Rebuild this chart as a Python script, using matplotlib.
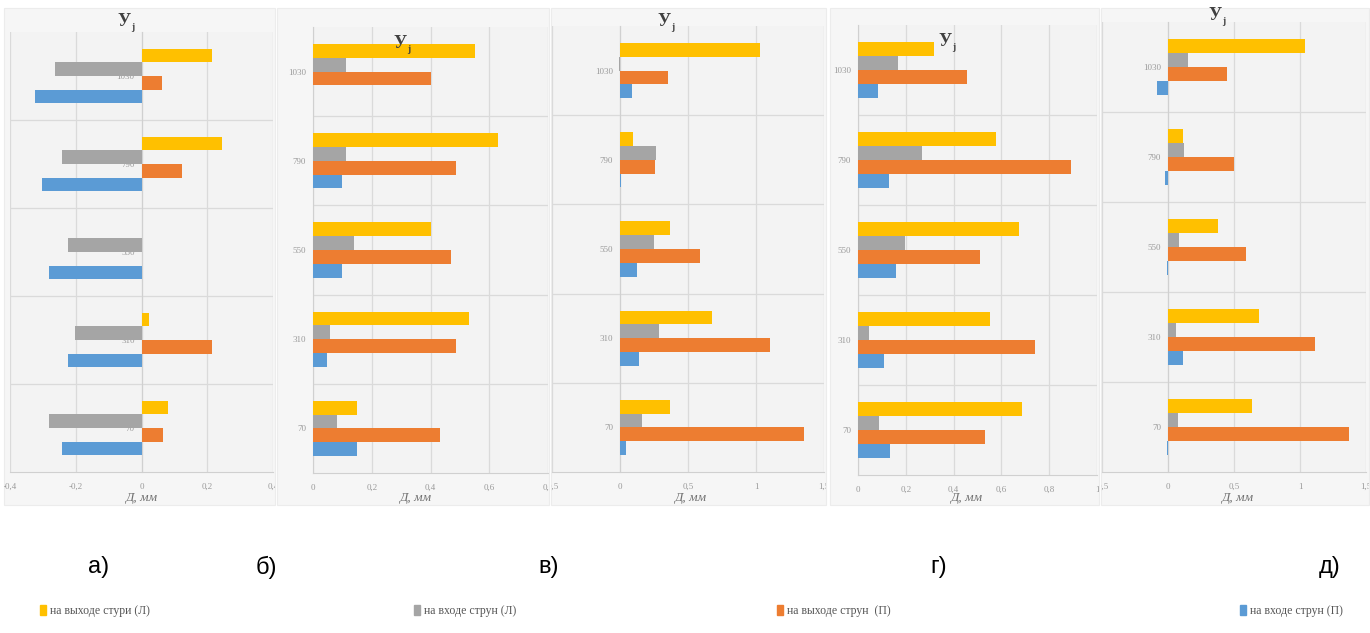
import matplotlib
matplotlib.use('Agg')
import matplotlib.pyplot as plt
from matplotlib.patches import Rectangle, Patch
from matplotlib.ticker import FuncFormatter
from matplotlib.transforms import Bbox, TransformedBbox

plt.rcParams['font.family'] = ['Liberation Serif', 'DejaVu Serif']

# категории (снизу вверх)
cats = ['70', '310', '550', '790', '1030']

# данные по панелям: выход (Л), вход (Л), выход (П), вход (П)
a_out_l = [0.082, 0.024, 0.0, 0.246, 0.213]
a_in_l = [-0.282, -0.202, -0.223, -0.241, -0.262]
a_out_r = [0.064, 0.213, 0.0, 0.123, 0.062]
a_in_r = [-0.243, -0.223, -0.282, -0.303, -0.323]

b_out_l = [0.149, 0.531, 0.40, 0.629, 0.551]
b_in_l = [0.08, 0.059, 0.139, 0.113, 0.113]
b_out_r = [0.431, 0.488, 0.469, 0.488, 0.40]
b_in_r = [0.149, 0.048, 0.099, 0.099, 0.0]

v_out_l = [0.368, 0.678, 0.368, 0.098, 1.03]
v_in_l = [0.159, 0.288, 0.251, 0.268, -0.008]
v_out_r = [1.356, 1.105, 0.588, 0.259, 0.35]
v_in_r = [0.044, 0.141, 0.122, 0.006, 0.088]

g_out_l = [0.686, 0.553, 0.672, 0.578, 0.316]
g_in_l = [0.086, 0.047, 0.198, 0.268, 0.167]
g_out_r = [0.532, 0.741, 0.509, 0.892, 0.456]
g_in_r = [0.135, 0.107, 0.159, 0.128, 0.084]

d_out_l = [0.637, 0.69, 0.38, 0.112, 1.039]
d_in_l = [0.073, 0.063, 0.08, 0.122, 0.149]
d_out_r = [1.373, 1.117, 0.593, 0.502, 0.446]
d_in_r = [-0.006, 0.112, -0.01, -0.024, -0.083]

series_names = ['на выходе стури (Л)', 'на входе струн (Л)',
                'на выходе струн  (П)', 'на входе струн (П)']
colors = ['#ffc000', '#a5a5a5', '#ed7d31', '#5b9bd5']

panels = [
    ('а)', [a_out_l, a_in_l, a_out_r, a_in_r], (-0.4, 0.4), [-0.4, -0.2, 0, 0.2, 0.4]),
    ('б)', [b_out_l, b_in_l, b_out_r, b_in_r], (0, 0.8), [0, 0.2, 0.4, 0.6, 0.8]),
    ('в)', [v_out_l, v_in_l, v_out_r, v_in_r], (-0.5, 1.5), [-0.5, 0, 0.5, 1, 1.5]),
    ('г)', [g_out_l, g_in_l, g_out_r, g_in_r], (0, 1.0), [0, 0.2, 0.4, 0.6, 0.8, 1.0]),
    ('д)', [d_out_l, d_in_l, d_out_r, d_in_r], (-0.5, 1.5), [-0.5, 0, 0.5, 1, 1.5]),
]

W, H = 1370, 633
# пиксельная геометрия: область построения (x0, x1, y0, y1), область диаграммы (x0, x1)
plot_px = [(10, 273, 32, 472), (313, 548, 27, 473), (552, 824, 26, 472),
           (858, 1097, 25, 475), (1102, 1366, 22, 472)]
chart_px = [(4, 275), (277, 549), (551, 826), (830, 1099), (1101, 1369)]
title_px = [(124, 22), (400, 44), (664, 22), (945, 42), (1215, 16)]
label_px = [99, 266, 549, 939, 1330]

fig = plt.figure(figsize=(W / 100, H / 100), dpi=100)
fig.patch.set_facecolor('white')

fmt = FuncFormatter(lambda v, p: ('%g' % round(v, 2)).replace('.', ','))
h = 0.155
offs = [1.5 * h, 0.5 * h, -0.5 * h, -1.5 * h]

for i, (lab, data, xlim, ticks) in enumerate(panels):
    cx0, cx1 = chart_px[i]
    fig.patches.append(Rectangle((cx0 / W, 1 - 505 / H), (cx1 - cx0) / W, 497 / H,
                                 transform=fig.transFigure, facecolor='#f6f6f6',
                                 edgecolor='#ececec', lw=0.8, zorder=-5))
    clipbox = TransformedBbox(Bbox.from_extents(cx0 / W, 1 - 505 / H, cx1 / W, 1 - 8 / H),
                              fig.transFigure)
    x0, x1, y0, y1 = plot_px[i]
    ax = fig.add_axes([x0 / W, 1 - y1 / H, (x1 - x0) / W, (y1 - y0) / H])
    ax.set_zorder(2)
    ax.set_facecolor('#f3f3f3')
    ypos = list(range(len(cats)))
    for s, vals in enumerate(data):
        ax.barh([y + offs[s] for y in ypos], vals, height=h, color=colors[s], zorder=3)
    ax.set_xlim(*xlim)
    ax.set_ylim(-0.5, len(cats) - 0.5)
    ax.set_xticks(ticks)
    ax.xaxis.set_major_formatter(fmt)
    ax.set_yticks(ypos)
    ax.set_yticklabels(cats)
    ax.set_yticks([y + 0.5 for y in ypos[:-1]], minor=True)
    ax.grid(True, axis='x', color='#dadada', lw=0.9, zorder=0)
    ax.grid(True, axis='y', which='minor', color='#dadada', lw=0.9, zorder=0)
    ax.tick_params(which='both', length=0)
    ax.tick_params(axis='x', labelsize=6.5, labelcolor='#9a9a9a', pad=8)
    ax.tick_params(axis='y', labelsize=6.5, labelcolor='#9a9a9a', pad=5)
    ax.spines['left'].set_position(('data', 0))
    ax.spines['left'].set_color('#d0d0d0')
    ax.spines['bottom'].set_color('#d0d0d0')
    ax.spines['top'].set_visible(False)
    ax.spines['right'].set_visible(False)
    # подписи делений обрезаются краем своей диаграммы, как в исходнике
    for tick in ax.xaxis.get_major_ticks():
        tick.label1.set_clip_box(clipbox)
        tick.label1.set_clip_on(True)

    # заголовок оси У_j
    tx, ty = title_px[i]
    fig.text(tx / W, 1 - ty / H, 'У', fontsize=13, fontweight='bold',
             color='#404040', ha='center', va='center', zorder=5)
    fig.text((tx + 7) / W, 1 - (ty + 6) / H, 'j', fontsize=7, fontweight='bold',
             color='#404040', ha='left', va='center', zorder=5)
    # подпись оси
    fig.text(((cx0 + cx1) / 2 + 2) / W, 1 - 498 / H, 'Д, мм', fontsize=9.5, style='italic',
             color='#707070', ha='center', va='center')
    # метка панели
    fig.text(label_px[i] / W, 1 - 567 / H, lab, fontsize=17,
             family='Liberation Sans', color='black', ha='center', va='center')

leg_x = [40, 414, 777, 1240]
for s in range(4):
    fig.legend(handles=[Patch(color=colors[s], label=series_names[s])],
               loc='center left', bbox_to_anchor=(leg_x[s] / W, 1 - 611 / H),
               frameon=False, handlelength=0.55, handleheight=0.9, handletextpad=0.3,
               prop={'family': 'Liberation Serif', 'size': 8.5}, labelcolor='#555555',
               borderpad=0, borderaxespad=0)

fig.savefig('out.png', dpi=100)
